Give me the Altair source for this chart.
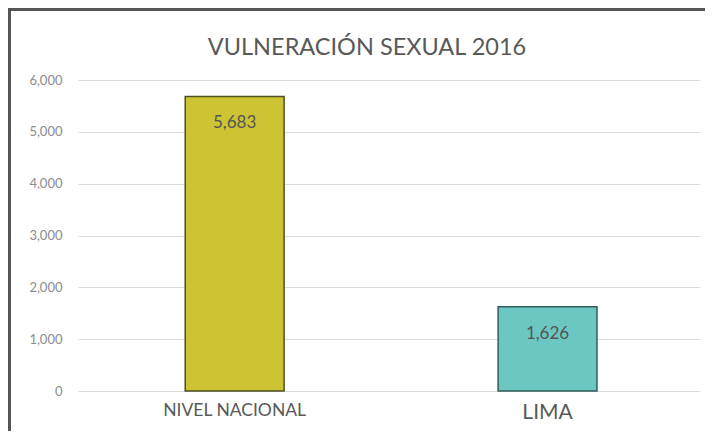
import altair as alt
import pandas as pd

categories = ["NIVEL NACIONAL", "LIMA"]
values = [5683, 1626]
labels = ["5,683", "1,626"]
colors = ["#CCC433", "#6CC7C2"]
strokes = ["#4F4F25", "#2F5F5C"]
title_text = "VULNERACIÓN SEXUAL 2016"

df = pd.DataFrame({"cat": categories, "val": values, "lab": labels,
                   "color": colors, "stroke": strokes})
title_df = pd.DataFrame({"t": [title_text]})

W, H = 622, 311

x = alt.X("cat:N", sort=categories, title=None,
          scale=alt.Scale(paddingInner=0.684, paddingOuter=0.336, align=0.51),
          axis=alt.Axis(labelAngle=0, domain=False, ticks=False, labelPadding=10,
                        labelColor="#595959", labelFont="Lato", labelBaseline="top",
                        labelFontSize={"condition": {"test": "datum.value === 'LIMA'", "value": 21},
                                       "value": 17.5}))
y = alt.Y("val:Q", title=None,
          scale=alt.Scale(domain=[0, 6000], nice=False),
          axis=alt.Axis(values=[0, 1000, 2000, 3000, 4000, 5000, 6000], format=",d",
                        domain=False, ticks=False, labelPadding=16,
                        labelColor="#8C8C8C", labelFont="Lato", labelFontSize=13,
                        gridColor="#DCDCDC", gridWidth=1))

bars = alt.Chart(df).mark_bar(strokeWidth=1.5).encode(
    x=x, y=y,
    color=alt.Color("color:N", scale=None),
    stroke=alt.Stroke("stroke:N", scale=None),
)

text = alt.Chart(df).mark_text(baseline="middle", dy=27, font="Lato", fontSize=17,
                               color="#555555").encode(
    x=alt.X("cat:N", sort=categories), y="val:Q", text="lab:N")

title = alt.Chart(title_df).mark_text(font="Lato", fontSize=23.5, color="#595959",
                                      align="center", baseline="alphabetic").encode(
    x=alt.value(289), y=alt.value(-25), text="t:N")

border_top = alt.Chart(df).mark_rule(color="#555555", strokeWidth=3).encode(
    x=alt.value(-70), x2=alt.value(W + 5), y=alt.value(-70.5))
border_left = alt.Chart(df).mark_rule(color="#555555", strokeWidth=3).encode(
    x=alt.value(-68.5), y=alt.value(-72), y2=alt.value(H + 40))

chart = alt.layer(bars, text, title, border_top, border_left).properties(
    width=W, height=H,
    autosize=alt.AutoSizeParams(type="none"),
    padding={"left": 70, "top": 72, "right": 5, "bottom": 40},
).configure_view(stroke=None)

chart.save("out.html", embed_options={"renderer": "svg", "actions": False})
